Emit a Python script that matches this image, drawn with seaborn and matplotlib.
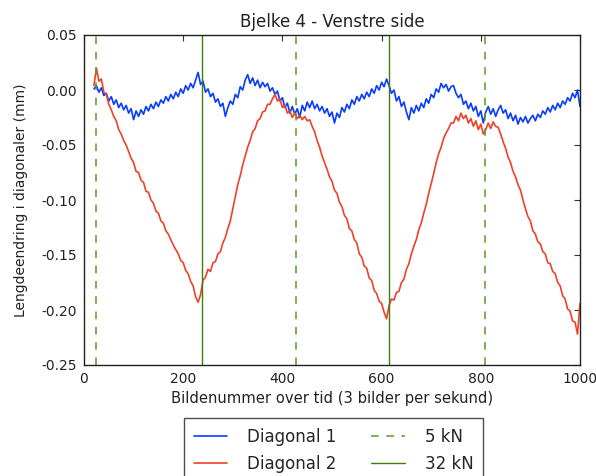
import numpy as np
import pandas as pd
import matplotlib
matplotlib.use("Agg")
import matplotlib.pyplot as plt
import seaborn as sns

# Frames sampled every 5 images, starting at frame 20
diagonal_1 = [
    0.001, 0.004, -0.002, 0.002, -0.005, -0.003, -0.010, -0.006, -0.013, -0.009,
    -0.016, -0.012, -0.018, -0.014, -0.021, -0.017, -0.027, -0.019, -0.024, -0.018,
    -0.022, -0.015, -0.019, -0.013, -0.017, -0.011, -0.015, -0.009, -0.012, -0.006,
    -0.010, -0.004, -0.008, -0.002, -0.006, 0.001, -0.003, 0.004, 0.000, 0.006,
    0.002, 0.009, 0.016, 0.005, 0.008, -0.002, 0.001, -0.006, -0.003, -0.011,
    -0.008, -0.015, -0.012, -0.024, -0.016, -0.010, -0.013, -0.004, -0.007, 0.003,
    0.000, 0.009, 0.014, 0.006, 0.011, 0.004, 0.009, 0.002, 0.007, 0.003,
    0.006, -0.001, 0.002, -0.004, -0.001, -0.010, -0.007, -0.016, -0.012, -0.021,
    -0.015, -0.022, -0.017, -0.025, -0.014, -0.019, -0.011, -0.016, -0.010, -0.017,
    -0.013, -0.019, -0.015, -0.021, -0.017, -0.024, -0.020, -0.030, -0.021, -0.025,
    -0.016, -0.020, -0.013, -0.017, -0.009, -0.013, -0.006, -0.010, -0.004, -0.008,
    -0.002, -0.006, 0.001, -0.003, 0.004, 0.000, 0.007, 0.003, 0.010, 0.004,
    -0.003, 0.000, -0.010, -0.006, -0.015, -0.011, -0.020, -0.027, -0.016, -0.021,
    -0.014, -0.019, -0.012, -0.016, -0.008, -0.012, -0.004, -0.007, 0.001, -0.002,
    0.006, 0.002, 0.005, -0.001, 0.003, 0.004, -0.003, -0.007, -0.004, -0.013,
    -0.010, -0.017, -0.012, -0.019, -0.015, -0.024, -0.019, -0.030, -0.020, -0.015,
    -0.022, -0.017, -0.024, -0.018, -0.014, -0.021, -0.018, -0.026, -0.021, -0.028,
    -0.023, -0.031, -0.025, -0.029, -0.024, -0.030, -0.026, -0.023, -0.028, -0.022,
    -0.025, -0.019, -0.022, -0.016, -0.020, -0.014, -0.018, -0.012, -0.016, -0.010,
    -0.013, -0.007, -0.010, -0.003, -0.007, 0.000, -0.015,
]

diagonal_2 = [
    0.004, 0.020, 0.008, 0.010, -0.002, -0.004, -0.013, -0.018, -0.024, -0.028,
    -0.036, -0.040, -0.046, -0.050, -0.056, -0.062, -0.066, -0.074, -0.075, -0.082,
    -0.084, -0.092, -0.093, -0.100, -0.103, -0.110, -0.112, -0.119, -0.121, -0.128,
    -0.131, -0.136, -0.141, -0.145, -0.149, -0.155, -0.157, -0.164, -0.167, -0.174,
    -0.178, -0.188, -0.193, -0.186, -0.173, -0.170, -0.163, -0.165, -0.157, -0.156,
    -0.149, -0.147, -0.139, -0.134, -0.126, -0.119, -0.108, -0.097, -0.086, -0.078,
    -0.068, -0.060, -0.052, -0.046, -0.038, -0.035, -0.028, -0.026, -0.020, -0.019,
    -0.013, -0.013, -0.008, -0.004, -0.010, -0.008, -0.016, -0.014, -0.021, -0.019,
    -0.025, -0.021, -0.026, -0.023, -0.027, -0.024, -0.028, -0.027, -0.033, -0.038,
    -0.046, -0.052, -0.060, -0.066, -0.072, -0.079, -0.083, -0.091, -0.094, -0.102,
    -0.106, -0.114, -0.117, -0.126, -0.128, -0.136, -0.139, -0.149, -0.152, -0.160,
    -0.162, -0.171, -0.173, -0.182, -0.185, -0.192, -0.194, -0.202, -0.208, -0.196,
    -0.190, -0.191, -0.184, -0.183, -0.175, -0.172, -0.163, -0.158, -0.149, -0.142,
    -0.136, -0.127, -0.121, -0.112, -0.104, -0.094, -0.085, -0.076, -0.066, -0.058,
    -0.052, -0.044, -0.039, -0.035, -0.030, -0.030, -0.024, -0.028, -0.021, -0.026,
    -0.023, -0.030, -0.026, -0.033, -0.028, -0.036, -0.031, -0.040, -0.036, -0.030,
    -0.035, -0.029, -0.033, -0.034, -0.040, -0.047, -0.053, -0.061, -0.066, -0.074,
    -0.079, -0.086, -0.091, -0.100, -0.108, -0.115, -0.119, -0.128, -0.131, -0.138,
    -0.140, -0.147, -0.149, -0.157, -0.158, -0.165, -0.167, -0.175, -0.178, -0.187,
    -0.190, -0.199, -0.201, -0.210, -0.211, -0.222, -0.194,
]

frames_1 = list(range(20, 20 + 5 * len(diagonal_1), 5))
frames_2 = list(range(20, 20 + 5 * len(diagonal_2), 5))

load_5kN = [24, 427, 808]
load_32kN = [238, 615]

series_labels = ["Diagonal 1", "Diagonal 2"]
title = "Bjelke 4 - Venstre side"
xlabel = "Bildenummer over tid (3 bilder per sekund)"
ylabel = "Lengdeendring i diagonaler (mm)"

sns.set_style("white")
plt.rcParams["font.family"] = ["DejaVu Sans"]
plt.rcParams["xtick.direction"] = "in"
plt.rcParams["ytick.direction"] = "in"

fig = plt.figure(figsize=(5.96, 4.76), dpi=100)
ax = fig.add_axes([84 / 596, 1 - 365 / 476, 496 / 596, 330 / 476])

blue = "#0a3cff"
red = "#ee4128"
green_dash = "#5a9a28"
green_solid = "#3f7f12"

df1 = pd.DataFrame({"frame": frames_1, "value": diagonal_1})
df2 = pd.DataFrame({"frame": frames_2, "value": diagonal_2})
sns.lineplot(data=df1, x="frame", y="value", ax=ax, color=blue, lw=1.2, label=series_labels[0])
sns.lineplot(data=df2, x="frame", y="value", ax=ax, color=red, lw=1.2, label=series_labels[1])

for i, f in enumerate(load_5kN):
    ax.axvline(f, color=green_dash, ls=(0, (5, 5)), lw=1.1, label="5 kN" if i == 0 else None)
for i, f in enumerate(load_32kN):
    ax.axvline(f, color=green_solid, ls="-", lw=1.0, label="32 kN" if i == 0 else None)

ax.set_xlim(0, 1000)
ax.set_ylim(-0.25, 0.05)
ax.set_xticks([0, 200, 400, 600, 800, 1000])
ax.set_yticks([-0.25, -0.20, -0.15, -0.10, -0.05, 0.00, 0.05])
ax.yaxis.set_major_formatter(matplotlib.ticker.FormatStrFormatter("%.2f"))
ax.tick_params(axis="both", which="both", top=True, right=True, length=4, width=0.8,
               labelsize=10, color="#333333", labelcolor="#222222", pad=5)
for sp in ax.spines.values():
    sp.set_color("#222222")
    sp.set_linewidth(1.0)

ax.set_title(title, fontsize=12, color="#222222", pad=6)
ax.set_xlabel(xlabel, fontsize=10.6, color="#222222", labelpad=4)
ax.set_ylabel(ylabel, fontsize=10, color="#222222", labelpad=10)

handles, labels = ax.get_legend_handles_labels()
order = ["Diagonal 1", "Diagonal 2", "5 kN", "32 kN"]
hmap = dict(zip(labels, handles))
leg = ax.legend([hmap[k] for k in order], order, ncol=2, loc="upper center",
                bbox_to_anchor=(333.5 / 596, 1 - 418 / 476), bbox_transform=fig.transFigure,
                fontsize=12, frameon=True, fancybox=False, edgecolor="#222222",
                handlelength=2.0, columnspacing=2.1, handletextpad=1.2,
                borderpad=0.6, labelspacing=0.55, borderaxespad=0)
leg.get_frame().set_linewidth(1.0)

fig.savefig("out.png", dpi=100, facecolor="white")
